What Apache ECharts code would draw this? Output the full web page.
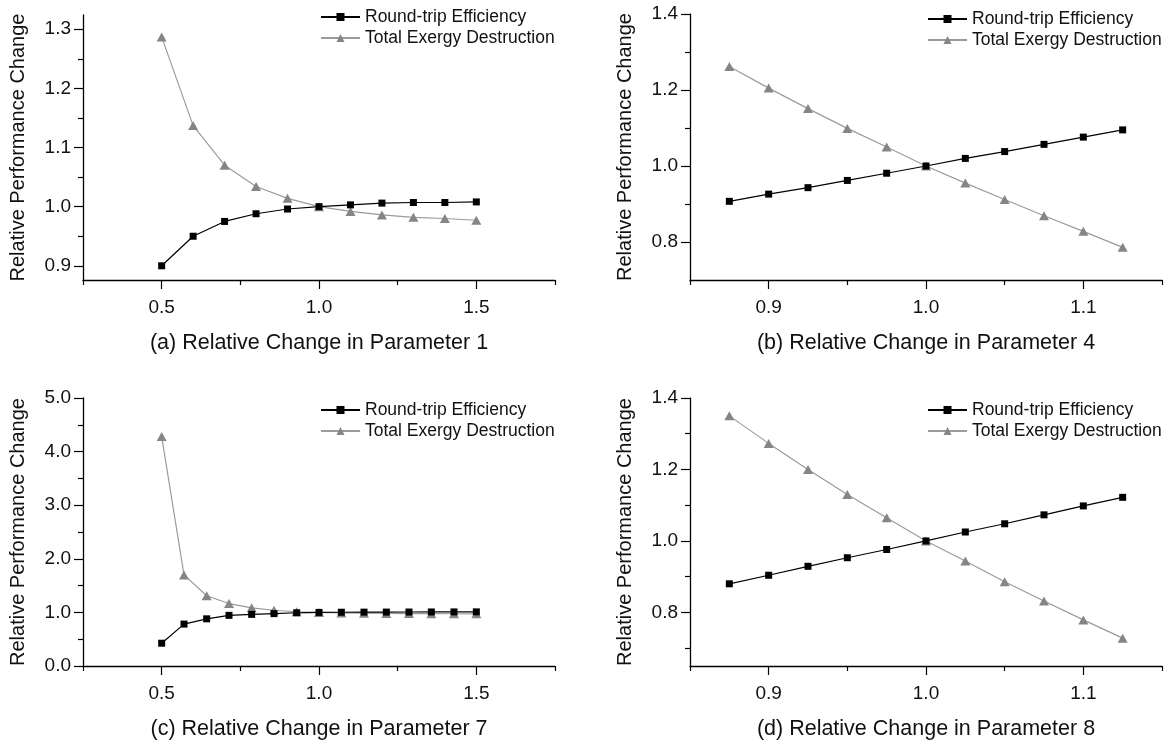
<!DOCTYPE html>
<html>
<head>
<meta charset="utf-8">
<title>Sensitivity of performance to parameters</title>
<script src="https://cdn.jsdelivr.net/npm/echarts@6/dist/echarts.min.js"></script>
<style>
  html, body { margin: 0; padding: 0; background: #ffffff; }
  #chart { width: 1174px; height: 745px; }
</style>
</head>
<body>
<div id="chart"></div>
<script>
// Series names and axis texts
const effName = 'Round-trip Efficiency';
const tedName = 'Total Exergy Destruction';
const yTitle = 'Relative Performance Change';
const xTitles = [
  '(a) Relative Change in Parameter 1',
  '(b) Relative Change in Parameter 4',
  '(c) Relative Change in Parameter 7',
  '(d) Relative Change in Parameter 8'
];

// (a) Parameter 1
const xA = [0.5, 0.6, 0.7, 0.8, 0.9, 1.0, 1.1, 1.2, 1.3, 1.4, 1.5];
const effA = [0.900, 0.950, 0.975, 0.988, 0.996, 1.000, 1.003, 1.006, 1.007, 1.007, 1.008];
const tedA = [1.287, 1.137, 1.070, 1.034, 1.014, 1.000, 0.992, 0.986, 0.982, 0.980, 0.977];

// (b) Parameter 4
const xB = [0.875, 0.9, 0.925, 0.95, 0.975, 1.0, 1.025, 1.05, 1.075, 1.1, 1.125];
const effB = [0.907, 0.926, 0.943, 0.962, 0.981, 1.000, 1.020, 1.038, 1.057, 1.076, 1.095];
const tedB = [1.262, 1.205, 1.151, 1.099, 1.050, 1.000, 0.955, 0.912, 0.869, 0.828, 0.786];

// (c) Parameter 7
const xC = [0.5, 0.571, 0.643, 0.714, 0.786, 0.857, 0.929, 1.0, 1.071, 1.143, 1.214, 1.286, 1.357, 1.429, 1.5];
const effC = [0.425, 0.782, 0.880, 0.945, 0.963, 0.977, 0.993, 1.000, 1.003, 1.005, 1.006, 1.007, 1.008, 1.009, 1.010];
const tedC = [4.28, 1.70, 1.31, 1.165, 1.085, 1.040, 1.012, 1.000, 0.990, 0.985, 0.980, 0.978, 0.976, 0.975, 0.973];

// (d) Parameter 8
const xD = [0.875, 0.9, 0.925, 0.95, 0.975, 1.0, 1.025, 1.05, 1.075, 1.1, 1.125];
const effD = [0.880, 0.904, 0.929, 0.953, 0.976, 1.000, 1.025, 1.048, 1.073, 1.098, 1.122];
const tedD = [1.350, 1.273, 1.200, 1.130, 1.065, 1.000, 0.944, 0.886, 0.832, 0.779, 0.728];

// Tick positions (major ticks carry labels, minor ticks are shorter and unlabeled)
const xMajorAC = [0.5, 1.0, 1.5];
const xMinorAC = [0.25, 0.75, 1.25, 1.75];
const xMajorBD = [0.9, 1.0, 1.1];
const xMinorBD = [0.85, 0.95, 1.05, 1.15];
const yMajorA = [0.9, 1.0, 1.1, 1.2, 1.3];
const yMinorA = [0.95, 1.05, 1.15, 1.25];
const yMajorB = [0.8, 1.0, 1.2, 1.4];
const yMinorB = [0.9, 1.1, 1.3];
const yMajorC = [0, 1, 2, 3, 4, 5];
const yMinorC = [0.5, 1.5, 2.5, 3.5, 4.5];
const yMajorD = [0.8, 1.0, 1.2, 1.4];
const yMinorD = [0.7, 0.9, 1.1, 1.3];

const FONT = '"Liberation Sans", Arial, Helvetica, sans-serif';
const TEXT = '#111111';
const AXIS = '#000000';

const panels = [
  { x: xA, eff: effA, ted: tedA, grid: { left: 83, top: 15, width: 472, height: 265 },
    xr: [0.25, 1.75], yr: [0.876, 1.324], xMaj: xMajorAC, xMin: xMinorAC, yMaj: yMajorA, yMin: yMinorA,
    legend: { left: 320, top: 8 } },
  { x: xB, eff: effB, ted: tedB, grid: { left: 690, top: 14, width: 472, height: 266 },
    xr: [0.85, 1.15], yr: [0.7, 1.4], xMaj: xMajorBD, xMin: xMinorBD, yMaj: yMajorB, yMin: yMinorB,
    legend: { left: 927, top: 10 } },
  { x: xC, eff: effC, ted: tedC, grid: { left: 83, top: 398, width: 472, height: 268 },
    xr: [0.25, 1.75], yr: [0, 5], xMaj: xMajorAC, xMin: xMinorAC, yMaj: yMajorC, yMin: yMinorC,
    legend: { left: 320, top: 401 } },
  { x: xD, eff: effD, ted: tedD, grid: { left: 690, top: 398, width: 472, height: 268 },
    xr: [0.85, 1.15], yr: [0.65, 1.4], xMaj: xMajorBD, xMin: xMinorBD, yMaj: yMajorD, yMin: yMinorD,
    legend: { left: 927, top: 401 } }
];

const grids = [], xAxes = [], yAxes = [], series = [], legends = [];

panels.forEach((p, k) => {
  grids.push(Object.assign({ containLabel: false }, p.grid));

  // main x axis: line, long ticks, labels, title
  xAxes.push({
    type: 'value', gridIndex: k, position: 'bottom', min: p.xr[0], max: p.xr[1],
    name: xTitles[k], nameLocation: 'middle', nameGap: 52,
    nameTextStyle: { fontFamily: FONT, fontSize: 21.5, color: TEXT },
    axisLine: { show: true, onZero: false, lineStyle: { color: AXIS, width: 1.3 } },
    axisTick: { show: true, inside: false, length: 9, customValues: p.xMaj, lineStyle: { color: AXIS, width: 1.2 } },
    axisLabel: { show: true, customValues: p.xMaj, margin: 18, fontFamily: FONT, fontSize: 19, color: TEXT,
                 formatter: v => Number(v).toFixed(1) },
    splitLine: { show: false }
  });
  // companion x axis carrying the short minor ticks
  xAxes.push({
    type: 'value', gridIndex: k, position: 'bottom', min: p.xr[0], max: p.xr[1],
    axisLine: { show: false, onZero: false },
    axisTick: { show: true, length: 5, customValues: p.xMin, lineStyle: { color: AXIS, width: 1.2 } },
    axisLabel: { show: false },
    splitLine: { show: false }
  });

  yAxes.push({
    type: 'value', gridIndex: k, position: 'left', min: p.yr[0], max: p.yr[1],
    name: yTitle, nameLocation: 'middle', nameGap: 55, nameRotate: 90,
    nameTextStyle: { fontFamily: FONT, fontSize: 20, color: TEXT },
    axisLine: { show: true, onZero: false, lineStyle: { color: AXIS, width: 1.3 } },
    axisTick: { show: true, inside: false, length: 9, customValues: p.yMaj, lineStyle: { color: AXIS, width: 1.2 } },
    axisLabel: { show: true, customValues: p.yMaj, margin: 12, fontFamily: FONT, fontSize: 19, color: TEXT,
                 formatter: v => Number(v).toFixed(1) },
    splitLine: { show: false }
  });
  yAxes.push({
    type: 'value', gridIndex: k, position: 'left', min: p.yr[0], max: p.yr[1],
    axisLine: { show: false, onZero: false },
    axisTick: { show: true, length: 5, customValues: p.yMin, lineStyle: { color: AXIS, width: 1.2 } },
    axisLabel: { show: false },
    splitLine: { show: false }
  });

  series.push({
    name: effName, type: 'line', xAxisIndex: 2 * k, yAxisIndex: 2 * k,
    data: p.x.map((v, i) => [v, p.eff[i]]),
    symbol: 'rect', symbolSize: 7, showAllSymbol: true,
    lineStyle: { color: '#000000', width: 1.2 },
    itemStyle: { color: '#000000' },
    z: 3, animation: false
  });
  series.push({
    name: tedName, type: 'line', xAxisIndex: 2 * k, yAxisIndex: 2 * k,
    data: p.x.map((v, i) => [v, p.ted[i]]),
    symbol: 'triangle', symbolSize: [10, 9], showAllSymbol: true,
    lineStyle: { color: '#9b9b9b', width: 1.2 },
    itemStyle: { color: '#858585' },
    z: 2, animation: false
  });

  legends.push({
    orient: 'vertical', left: p.legend.left, top: p.legend.top, padding: 0,
    itemWidth: 39, itemHeight: 10, itemGap: 3, selectedMode: false,
    data: [effName, tedName],
    textStyle: { fontFamily: FONT, fontSize: 17.5, color: TEXT, lineHeight: 18, padding: [0, 0, 0, 0] }
  });
});

const chart = echarts.init(document.getElementById('chart'), null, { renderer: 'canvas' });
chart.setOption({
  backgroundColor: '#ffffff',
  animation: false,
  grid: grids,
  xAxis: xAxes,
  yAxis: yAxes,
  legend: legends,
  series: series
});
</script>
</body>
</html>
